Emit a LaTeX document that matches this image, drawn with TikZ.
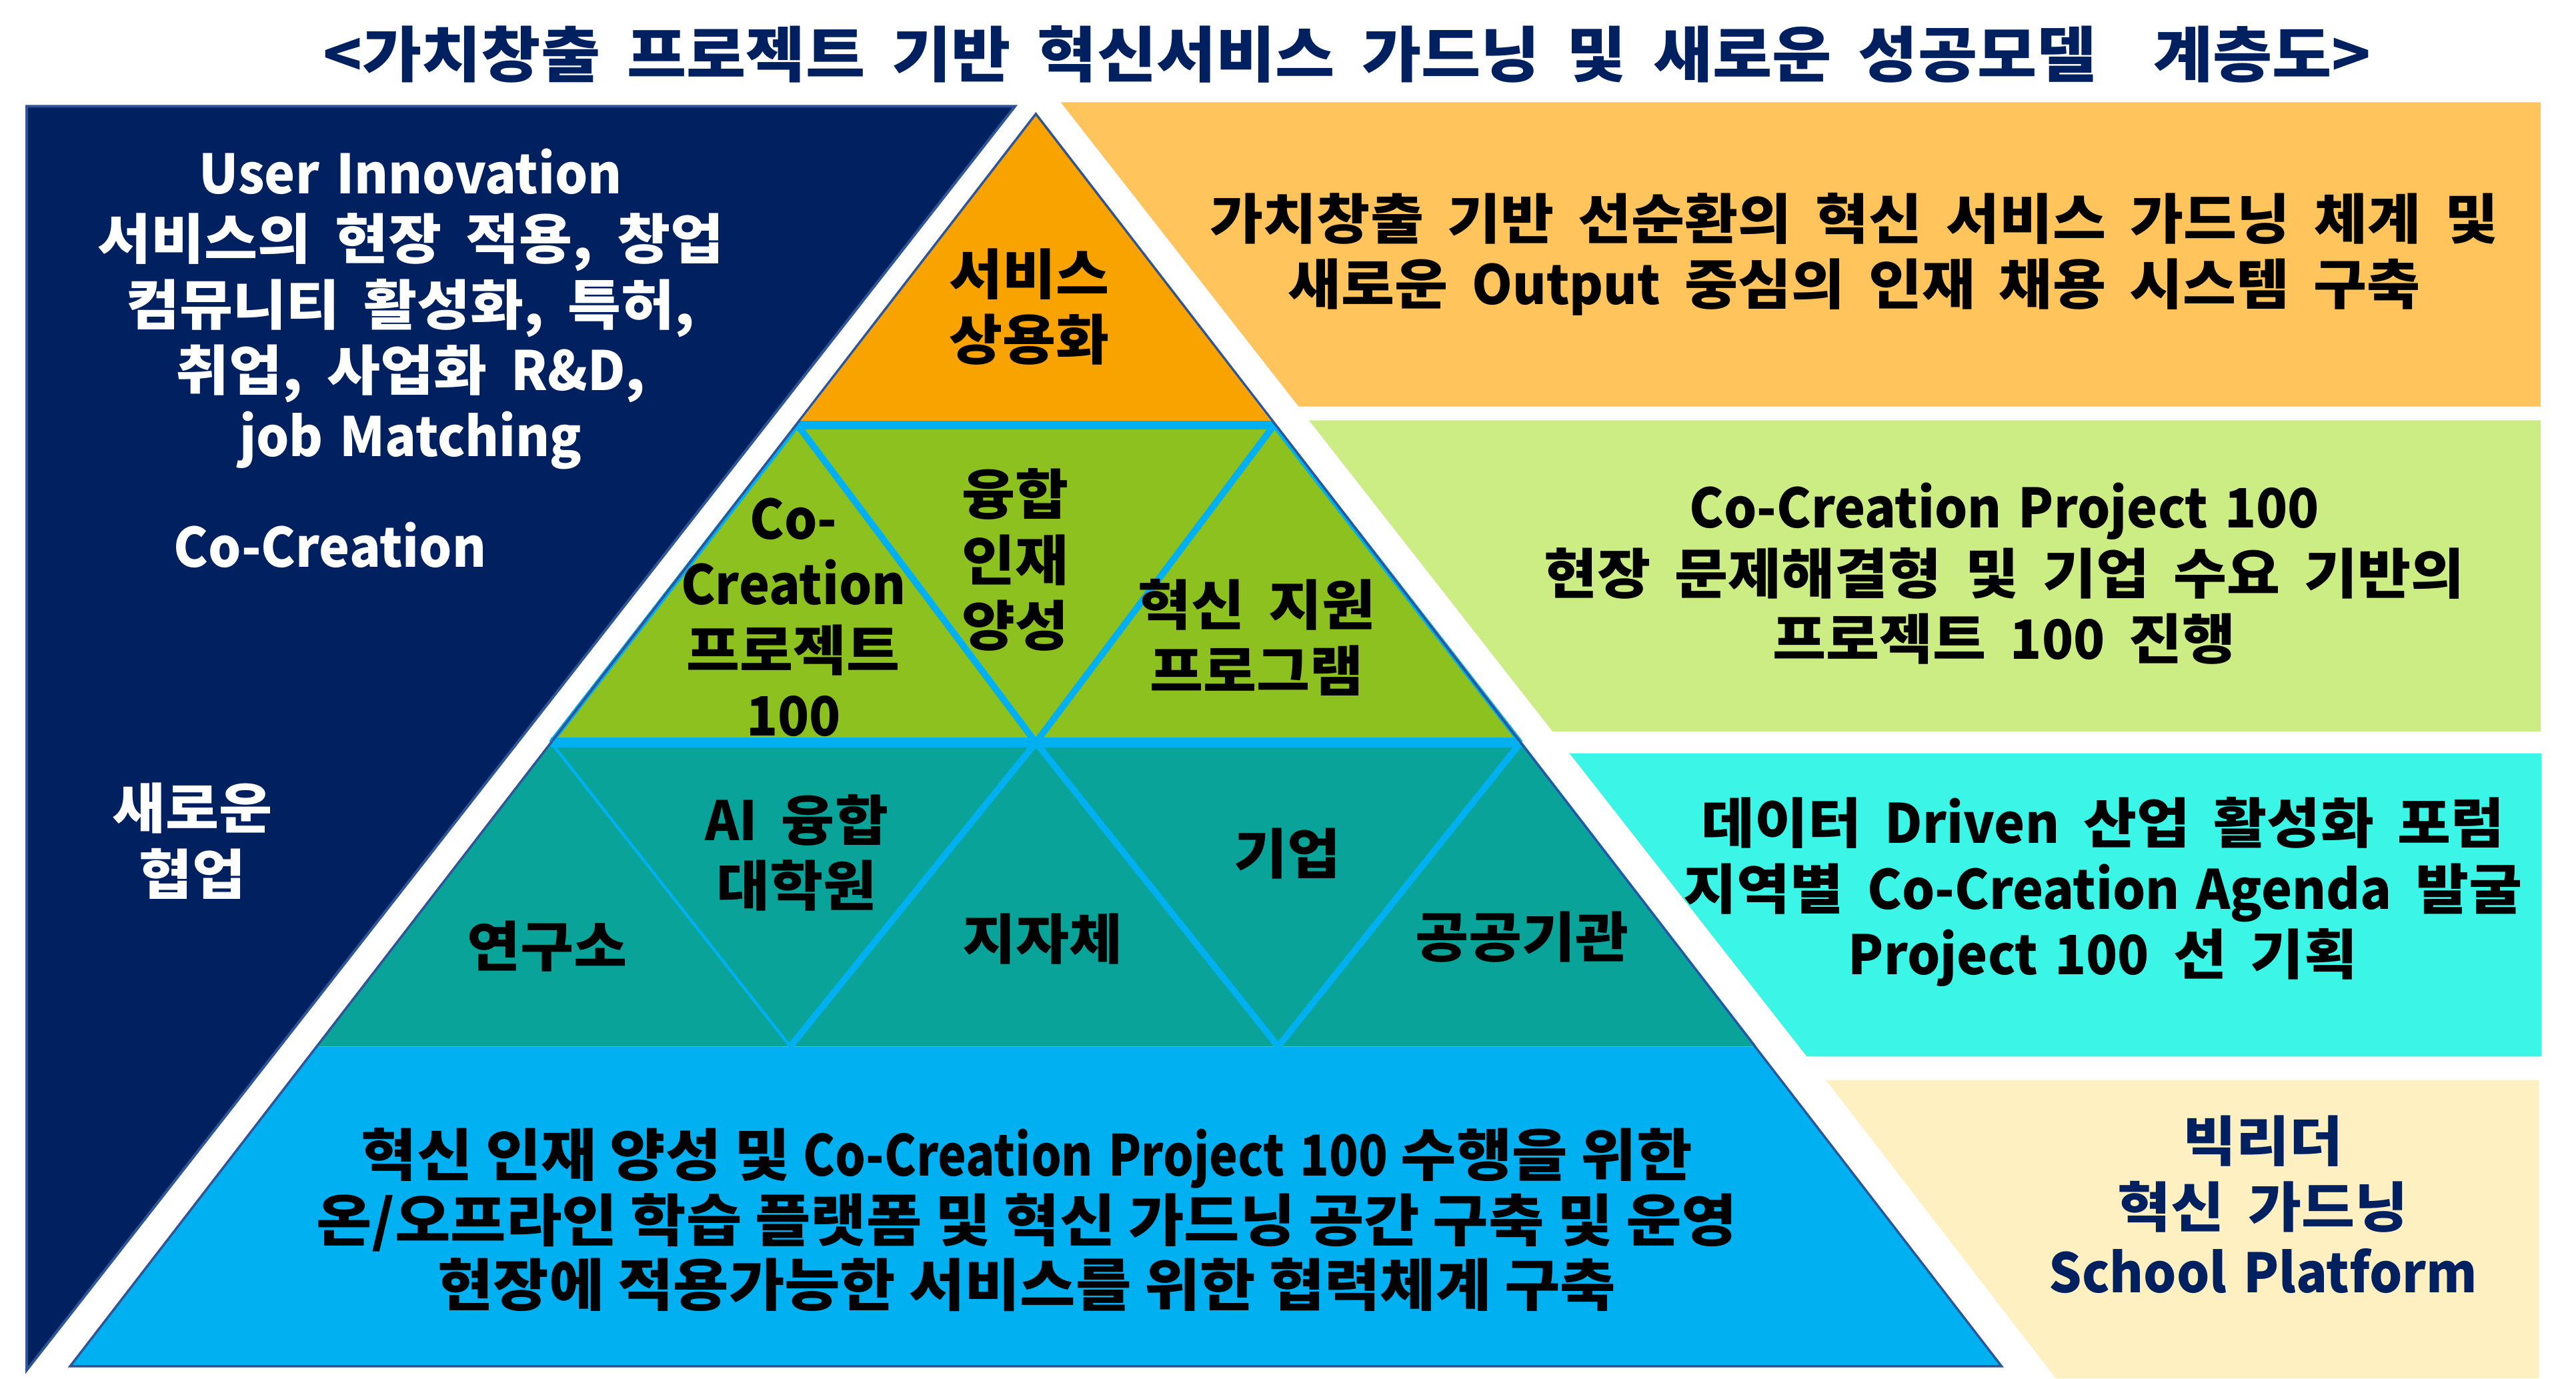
\documentclass[tikz,border=0pt]{standalone}
\usepackage{fontspec}
\setmainfont{Noto Sans CJK KR}[FakeStretch=1.07, WordSpace=1.8]
\newfontfamily\latf{Noto Sans CJK KR}[FakeStretch=0.955, WordSpace=1.4]
\newfontfamily\latn{Noto Sans CJK KR}[FakeStretch=0.85, WordSpace=1.4]
\newfontfamily\krbase{Noto Sans CJK KR}[FakeStretch=1.07, WordSpace=0.95]
\newcommand{\latrun}[1]{{\latf #1}}
\newcommand{\latnarrow}[1]{{\latn #1}}
\definecolor{navyC}{HTML}{002060}
\definecolor{edgeC}{HTML}{2F5597}
\definecolor{cyanC}{HTML}{00B0F0}
\definecolor{orangeC}{HTML}{F8A300}
\definecolor{greenC}{HTML}{8DC11F}
\definecolor{tealC}{HTML}{0AA399}
\definecolor{panelA}{HTML}{FFC55C}
\definecolor{panelB}{HTML}{CCEC84}
\definecolor{panelC}{HTML}{3BF5E6}
\definecolor{panelD}{HTML}{FFF0C2}
\tikzset{
  txt/.style={align=center, inner sep=0pt, font=\fontsize{33}{40}\selectfont\bfseries},
  basetxt/.style={align=center, inner sep=0pt, font=\fontsize{34.4}{39.5}\selectfont\krbase\bfseries},
  titletxt/.style={align=center, inner sep=0pt, font=\fontsize{36.8}{44}\selectfont\bfseries, text=navyC},
  cyanthick/.style={draw=cyanC, line width=4pt},
  cyanthin/.style={draw=cyanC, line width=1.8pt},
}
\begin{document}
\begin{tikzpicture}[x=1pt,y=-1pt]
\useasboundingbox (0,0) rectangle (1568,839);
\fill[white] (0,0) rectangle (1568,839);

% right panels
\fill[panelA] (645.7,62.3) -- (1546.5,62.3) -- (1546.5,247.4) -- (790.4,247.4) -- cycle;
\fill[panelB] (796.8,255.9) -- (1546.5,255.9) -- (1546.5,445.2) -- (945,445.2) -- cycle;
\fill[panelC] (955.3,458.5) -- (1547,458.5) -- (1547,643.1) -- (1099.8,643.1) -- cycle;
\fill[panelD] (1111.5,657.5) -- (1545.5,657.5) -- (1545.5,839) -- (1251.3,839) -- cycle;

% left navy
\filldraw[fill=navyC, draw=edgeC, line width=1.6pt] (16.3,64.7) -- (617.8,64.7) -- (16.3,833.9) -- cycle;

% pyramid coordinates
\coordinate (apex) at (630.5,69.3);
\coordinate (aL) at (485.5,258.8);
\coordinate (aR) at (775.5,258.8);
\coordinate (bL) at (335.4,452);
\coordinate (bM) at (630.5,452);
\coordinate (bR) at (925.6,452);
\coordinate (cL) at (192.8,637);
\coordinate (c1) at (481,637);
\coordinate (c2) at (778,637);
\coordinate (cR) at (1068.2,637);
\coordinate (dL) at (42.7,831.6);
\coordinate (dR) at (1218.3,831.6);

\fill[orangeC] (apex) -- (aR) -- (aL) -- cycle;
\fill[greenC] (aL) -- (aR) -- (bR) -- (bL) -- cycle;
\fill[tealC] (bL) -- (bR) -- (cR) -- (cL) -- cycle;
\fill[cyanC] (cL) -- (cR) -- (dR) -- (dL) -- cycle;

% cyan divisions
\draw[cyanthick] (aL) -- (bM) -- (aR);
\draw[draw=cyanC, line width=3pt] (aL) -- (bL);
\draw[draw=cyanC, line width=3pt] (aR) -- (bR);
\draw[draw=cyanC, line width=5pt] (aL) -- (aR);
\draw[draw=cyanC, line width=6pt] (bL) -- (bR);
\draw[cyanthin] (bL) -- (c1);
\draw[cyanthick] (c1) -- (bM) -- (c2) -- (bR);
\draw[cyanthin] (bR) -- (cR);

% pyramid outline
\draw[edgeC, line width=1.4pt, line join=miter] (apex) -- (dR) -- (dL) -- cycle;

% texts
\node[titletxt] (title) at (820,33.2) {<가치창출 프로젝트 기반 혁신서비스 가드닝 및 새로운 성공모델\hspace{0.5em} 계층도>};

\node[txt, text=white] (navytext) at (250,188) {\latrun{User Innovation}\\서비스의 현장 적용, 창업\\컴뮤니티 활성화, 특허,\\취업, 사업화 \latrun{R\&D},\\\latrun{job Matching}};
\node[txt, text=white] (cocre) at (201,331.6) {\latrun{Co-Creation}};
\node[txt, text=white] (newcollab) at (117,512) {새로운\\협업};

\node[txt] (top) at (626.6,186.8) {서비스\\상용화};
\node[txt] (g1) at (483,375.8) {\latrun{Co-}\\\latrun{Creation}\\프로젝트\\\latrun{100}};
\node[txt] (g2) at (618,340.8) {융합\\인재\\양성};
\node[txt] (g3) at (765,388) {혁신 지원\\프로그램};

\node[txt] (t1) at (333,576) {연구소};
\node[txt] (t2) at (485,519) {\latrun{AI} 융합\\대학원};
\node[txt] (t3) at (634.5,571.6) {지자체};
\node[txt] (t4) at (783.6,519.6) {기업};
\node[txt] (t5) at (926.6,570.3) {공공기관};

\node[basetxt] (base) at (625,742.5) {혁신 인재 양성 및 \latnarrow{Co-Creation Project 100} 수행을 위한\\온/오프라인 학습 플랫폼 및 혁신 가드닝 공간 구축 및 운영\\현장에 적용가능한 서비스를 위한 협력체계 구축};

\node[txt] (pA) at (1128.7,154.8) {가치창출 기반 선순환의 혁신 서비스 가드닝 체계 및\\새로운 \latrun{Output} 중심의 인재 채용 시스템 구축};
\node[txt] (pB) at (1220,349.2) {\latrun{Co-Creation Project 100}\\현장 문제해결형 및 기업 수요 기반의\\프로젝트 \latrun{100} 진행};
\node[txt] (pC) at (1280,543) {데이터 \latrun{Driven} 산업 활성화 포럼\\지역별 \latrun{Co-Creation Agenda} 발굴\\\latrun{Project 100} 선 기획};
\node[txt, text=navyC] (pD) at (1377.6,733.2) {빅리더\\혁신 가드닝\\\latrun{School Platform}};
\end{tikzpicture}
\end{document}
